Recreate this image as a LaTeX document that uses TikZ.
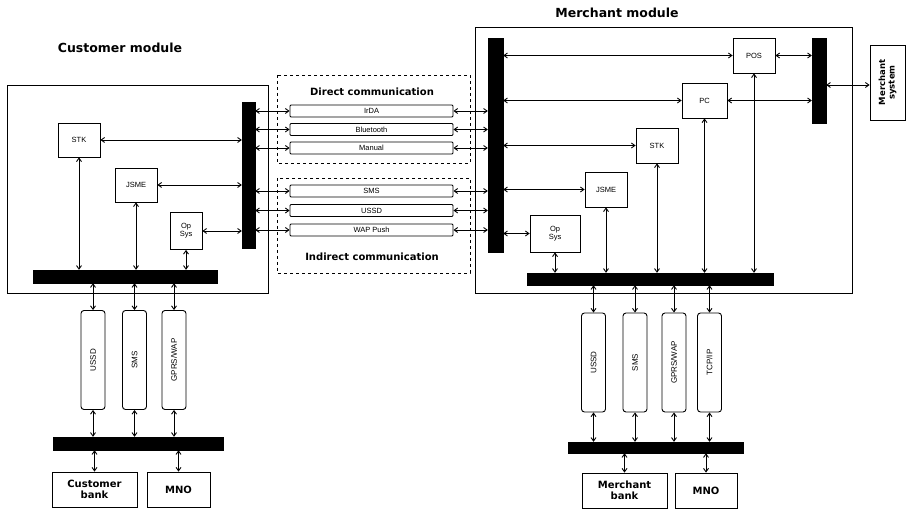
\documentclass[tikz,border=0pt]{standalone}
\usepackage{fontspec}
\setmainfont{Liberation Sans}
\newfontfamily\heavyfont{DejaVu Sans}
\usetikzlibrary{arrows.meta}
\tikzset{
  bar/.style={fill=black,draw=black,inner sep=0pt},
  blk/.style={draw,line width=0.8pt,inner sep=1pt,align=center,font=\fontsize{7.5}{8}\selectfont},
  heavy/.style={font=\heavyfont\bfseries\fontsize{10}{10.5}\selectfont},
  tube/.style={draw,line width=0.9pt,rounded corners=3pt,inner sep=0pt,minimum width=24pt,minimum height=99pt},
  tubetxt/.style={rotate=90,font=\fontsize{8}{8}\selectfont},
  combar/.style={draw,line width=0.9pt,rounded corners=1pt,inner sep=0pt,minimum width=163pt,minimum height=12pt,font=\fontsize{7.5}{8}\selectfont},
  grp/.style={draw,dashed,line width=0.8pt},
  title/.style={font=\heavyfont\bfseries\fontsize{12.5}{13}\selectfont},
  arr/.style={{Straight Barb[length=3.5pt,width=5pt]}-{Straight Barb[length=3.5pt,width=5pt]},line width=0.9pt}
}
\begin{document}
\begin{tikzpicture}[x=1pt,y=1pt,yscale=-1,xscale=1]
\useasboundingbox (0,0) rectangle (907,510);

%Customer module
\node[title] (ctitle) at (120,48) {Customer module};
\draw[line width=0.8pt] (7,85) rectangle (268,293);
\node[blk,minimum width=42pt,minimum height=34pt] (cstk) at (79,140) {STK};
\node[blk,minimum width=42pt,minimum height=34pt] (cjsme) at (136,185) {JSME};
\node[blk,minimum width=32pt,minimum height=37pt] (cos) at (186,231) {Op\\Sys};
\node[bar,minimum width=13pt,minimum height=146pt] (cvbar) at (248.5,175) {};
\node[bar,minimum width=184pt,minimum height=13pt] (chbar) at (125,276.5) {};
\draw[arr] (cstk.east) -- (cstk.east -| cvbar.west);
\draw[arr] (cjsme.east) -- (cjsme.east -| cvbar.west);
\draw[arr] (cos.east) -- (cos.east -| cvbar.west);
\draw[arr] (cstk.south) -- (cstk.south |- chbar.north);
\draw[arr] (cjsme.south) -- (cjsme.south |- chbar.north);
\draw[arr] (cos.south) -- (cos.south |- chbar.north);

%Customer channels
\node[tube] (cussd) at (93,360) {}; \node[tubetxt] at (cussd) {USSD};
\node[tube] (csms) at (134.5,360) {}; \node[tubetxt] at (csms) {SMS};
\node[tube] (cgprs) at (174,360) {}; \node[tubetxt] at (cgprs) {GPRS/WAP};
\node[bar,minimum width=170pt,minimum height=13pt] (clbar) at (138,443.5) {};
\node[blk,heavy,minimum width=85pt,minimum height=35pt] (cbank) at (94.5,489.5) {Customer\\bank};
\node[blk,heavy,minimum width=63pt,minimum height=35pt] (cmno) at (178.5,489.5) {MNO};
\foreach \t in {cussd,csms,cgprs}{
  \draw[arr] (\t.north |- chbar.south) -- (\t.north);
  \draw[arr] (\t.south) -- (\t.south |- clbar.north);
}
\draw[arr] (cbank.north |- clbar.south) -- (cbank.north);
\draw[arr] (cmno.north |- clbar.south) -- (cmno.north);

%Direct / indirect communication
\draw[grp] (277,75) rectangle (470,163);
\node[heavy] (dlabel) at (372,92) {Direct communication};
\node[combar] (irda) at (371.5,111) {IrDA};
\node[combar] (bt) at (371.5,129.5) {Bluetooth};
\node[combar] (man) at (371.5,148) {Manual};
\draw[grp] (277,178) rectangle (470,273);
\node[combar] (sms) at (371.5,191) {SMS};
\node[combar] (ussd) at (371.5,210.5) {USSD};
\node[combar] (wap) at (371.5,230) {WAP Push};
\node[heavy] (ilabel) at (372,257) {Indirect communication};

%Merchant module
\node[title] (mtitle) at (617,13) {Merchant module};
\draw[line width=0.8pt] (475,27) rectangle (852,293);
\node[bar,minimum width=15pt,minimum height=214pt] (mvbar) at (495.5,145) {};
\node[bar,minimum width=14pt,minimum height=85pt] (mrbar) at (819,80.5) {};
\node[bar,minimum width=246pt,minimum height=12pt] (mhbar) at (650,279) {};
\node[blk,minimum width=42pt,minimum height=35pt] (pos) at (754,55.5) {POS};
\node[blk,minimum width=45pt,minimum height=35pt] (pc) at (704.5,100.5) {PC};
\node[blk,minimum width=42pt,minimum height=35pt] (mstk) at (657,145.5) {STK};
\node[blk,minimum width=42pt,minimum height=35pt] (mjsme) at (606,189.5) {JSME};
\node[blk,minimum width=50pt,minimum height=37pt] (mos) at (555,233.5) {Op\\Sys};
\node[blk,minimum width=35pt,minimum height=75pt] (msys) at (887.5,82.5) {};
\node[rotate=90,align=center,font=\heavyfont\bfseries\fontsize{8.5}{9.5}\selectfont] at (msys) {Merchant\\system};
\foreach \b in {pos,pc,mstk,mjsme,mos}{
  \draw[arr] (\b.west -| mvbar.east) -- (\b.west);
  \draw[arr] (\b.south) -- (\b.south |- mhbar.north);
}
\draw[arr] (pos.east) -- (pos.east -| mrbar.west);
\draw[arr] (pc.east) -- (pc.east -| mrbar.west);
\draw[arr] (msys.west |- 0,85) -- (mrbar.east |- 0,85);

%Links across the middle
\foreach \c in {irda,bt,man,sms,ussd,wap}{
  \draw[arr] (\c.west -| cvbar.east) -- (\c.west);
  \draw[arr] (\c.east) -- (\c.east -| mvbar.west);
}

%Merchant channels
\node[tube] (mussd) at (593.5,362.5) {}; \node[tubetxt] at (mussd) {USSD};
\node[tube] (msms) at (635,362.5) {}; \node[tubetxt] at (msms) {SMS};
\node[tube] (mgprs) at (674,362.5) {}; \node[tubetxt] at (mgprs) {GPRS/WAP};
\node[tube] (mtcp) at (709.5,362.5) {}; \node[tubetxt] at (mtcp) {TCP/IP};
\node[bar,minimum width=175pt,minimum height=11pt] (mlbar) at (655.5,447.5) {};
\node[blk,heavy,minimum width=85pt,minimum height=35pt] (mbank) at (624.5,490.5) {Merchant\\bank};
\node[blk,heavy,minimum width=62pt,minimum height=35pt] (mmno) at (706,490.5) {MNO};
\foreach \t in {mussd,msms,mgprs,mtcp}{
  \draw[arr] (\t.north |- mhbar.south) -- (\t.north);
  \draw[arr] (\t.south) -- (\t.south |- mlbar.north);
}
\draw[arr] (mbank.north |- mlbar.south) -- (mbank.north);
\draw[arr] (mmno.north |- mlbar.south) -- (mmno.north);

\end{tikzpicture}
\end{document}
